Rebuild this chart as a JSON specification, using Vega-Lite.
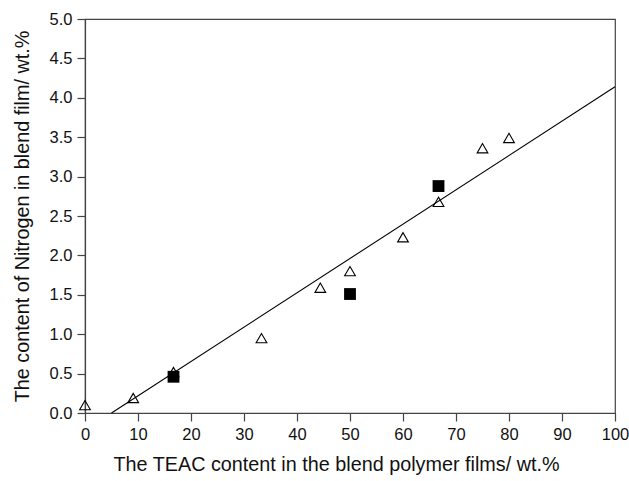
{
  "$schema": "https://vega.github.io/schema/vega-lite/v6.json",
  "autosize": "none",
  "width": 530,
  "height": 394,
  "padding": {"left": 85, "top": 19, "right": 14, "bottom": 68},
  "background": "white",
  "config": {
    "view": {"stroke": "#444", "strokeWidth": 1.2},
    "font": "Liberation Sans",
    "axis": {
      "domainColor": "#444",
      "domainWidth": 1.2,
      "tickColor": "#444",
      "tickWidth": 1.2,
      "tickSize": 8,
      "labelFont": "Liberation Sans",
      "labelFontSize": 16.5,
      "labelColor": "#111",
      "labelOverlap": false,
      "labelFlush": false,
      "labelBound": false,
      "titleFont": "Liberation Sans",
      "titleFontSize": 19.8,
      "titleFontWeight": "normal",
      "titleColor": "#111",
      "grid": false,
      "labelPadding": 5
    }
  },
  "datasets": {
    "tri": [
      {"x": 0, "y": 0.1},
      {"x": 9.1, "y": 0.19},
      {"x": 16.7, "y": 0.52},
      {"x": 33.3, "y": 0.95},
      {"x": 44.4, "y": 1.59},
      {"x": 50, "y": 1.8},
      {"x": 60, "y": 2.23},
      {"x": 66.7, "y": 2.68},
      {"x": 75, "y": 3.36},
      {"x": 80, "y": 3.49}
    ],
    "sq": [
      {"x": 16.7, "y": 0.46},
      {"x": 50, "y": 1.51},
      {"x": 66.7, "y": 2.88}
    ],
    "fit": [
      {"x": 5, "y": 0},
      {"x": 100, "y": 4.14}
    ]
  },
  "encoding": {
    "x": {
      "field": "x", "type": "quantitative",
      "scale": {"domain": [0, 100], "nice": false},
      "axis": {"values": [0,10,20,30,40,50,60,70,80,90,100], "title": "The TEAC content in the blend polymer films/ wt.%", "titlePadding": 12, "titleAnchor": "start", "titleX": 28, "titleAlign": "left"}
    },
    "y": {
      "field": "y", "type": "quantitative",
      "scale": {"domain": [0, 5], "nice": false},
      "axis": {"values": [0,0.5,1,1.5,2,2.5,3,3.5,4,4.5,5], "format": ".1f", "title": "The content of Nitrogen in blend film/ wt.%", "titlePadding": 17}
    }
  },
  "layer": [
    {
      "data": {"name": "fit"},
      "mark": {"type": "line", "color": "#000", "strokeWidth": 1.1}
    },
    {
      "data": {"name": "tri"},
      "mark": {"type": "point", "shape": "triangle-up", "filled": false, "color": "#000", "strokeWidth": 1.1, "size": 115, "opacity": 1}
    },
    {
      "data": {"name": "sq"},
      "mark": {"type": "point", "shape": "square", "filled": true, "color": "#000", "size": 140, "opacity": 1}
    }
  ]
}
